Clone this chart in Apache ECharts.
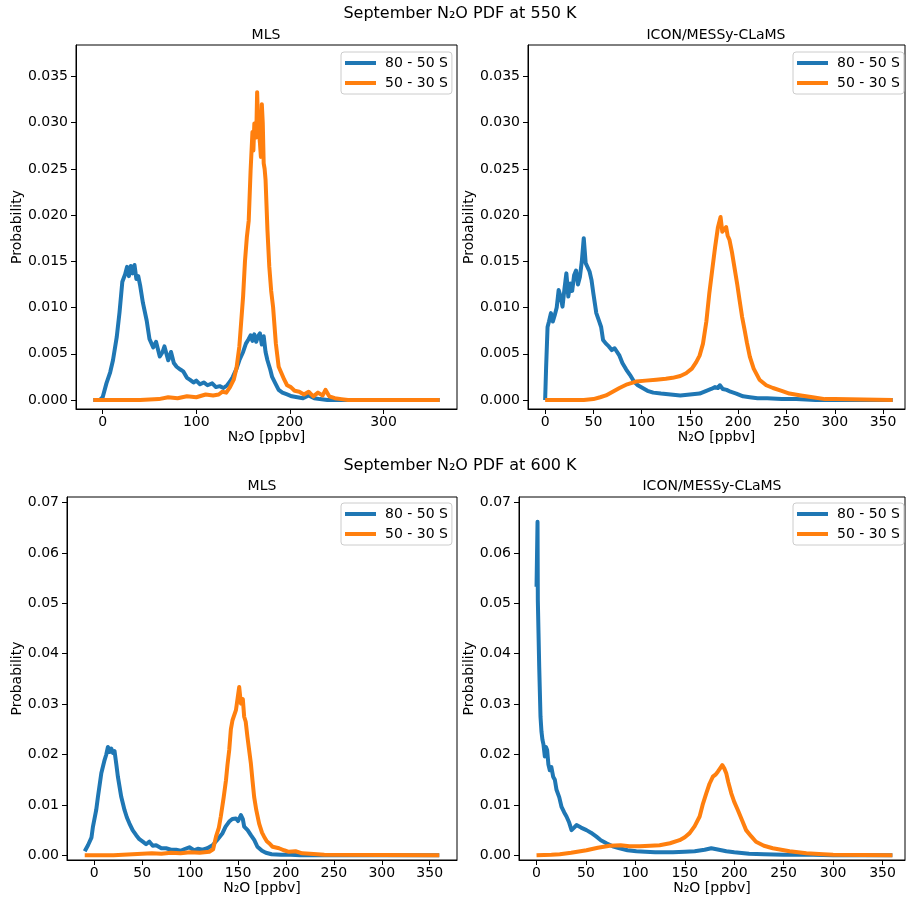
<!DOCTYPE html>
<html>
<head>
<meta charset="utf-8">
<script src="https://cdn.jsdelivr.net/npm/echarts@6/dist/echarts.min.js"></script>
<style>
  html, body { margin: 0; padding: 0; background: #fff; }
  #chart { width: 906px; height: 900px; }
</style>
</head>
<body>
<div id="chart"></div>
<script>
// series names
var names = ['80 - 50 S', '50 - 30 S'];

// 550 K, MLS
var mls550PolarX = [-10, -3, 0, 4, 8, 11, 15, 18, 21, 24, 26, 28, 30, 32, 34, 36, 38, 40, 43, 47, 50, 54, 57, 61, 64, 66, 70, 73, 76, 79, 83, 86, 90, 93, 97, 100, 104, 108, 112, 117, 121, 125, 129, 133, 136, 139, 143, 146, 150, 153, 156, 158, 160, 162, 164, 166, 168, 170, 172, 174, 176, 179, 181, 185, 188, 192, 197, 202, 208, 214, 220, 226, 232, 240, 260, 300, 360];
var mls550PolarY = [0, 0, 0.0003, 0.0018, 0.0030, 0.0043, 0.0068, 0.0095, 0.0128, 0.0136, 0.0144, 0.0134, 0.0145, 0.0137, 0.0146, 0.0131, 0.0134, 0.0124, 0.0105, 0.0086, 0.0066, 0.0057, 0.0063, 0.0047, 0.0052, 0.0058, 0.0043, 0.0052, 0.0040, 0.0036, 0.0033, 0.0031, 0.0024, 0.0022, 0.0019, 0.0021, 0.0017, 0.0019, 0.0016, 0.0018, 0.0014, 0.0015, 0.0013, 0.0016, 0.0020, 0.0025, 0.0034, 0.0043, 0.0052, 0.0061, 0.0066, 0.0070, 0.0064, 0.0071, 0.0063, 0.0069, 0.0072, 0.0060, 0.0069, 0.0052, 0.0043, 0.0033, 0.0025, 0.0017, 0.0011, 0.0008, 0.0006, 0.0004, 0.0003, 0.0002, 0.0005, 0.0002, 0.0001, 0, 0, 0, 0];
var mls550MidX = [-10, 40, 60, 70, 80, 90, 100, 110, 118, 124, 128, 132, 136, 140, 143, 146, 148, 150, 152, 154, 156, 158, 160, 161, 162, 164, 165, 166, 167, 168, 169, 170, 171, 172, 173, 174, 176, 178, 180, 182, 185, 188, 191, 194, 197, 201, 205, 210, 215, 220, 225, 230, 235, 238, 242, 248, 255, 262, 300, 360];
var mls550MidY = [0, 0, 0.0001, 0.0003, 0.0002, 0.0004, 0.0003, 0.0006, 0.0005, 0.0006, 0.0009, 0.0008, 0.0014, 0.0022, 0.0035, 0.0058, 0.0085, 0.0112, 0.0150, 0.0176, 0.0194, 0.0248, 0.0290, 0.0270, 0.0299, 0.0284, 0.0333, 0.0300, 0.0302, 0.0278, 0.0263, 0.0320, 0.0300, 0.0256, 0.0250, 0.0238, 0.0184, 0.0144, 0.0118, 0.0101, 0.0061, 0.0036, 0.0029, 0.0022, 0.0016, 0.0014, 0.0010, 0.0009, 0.0006, 0.0009, 0.0004, 0.0008, 0.0005, 0.0011, 0.0004, 0.0002, 0.0001, 0, 0, 0];

// 550 K, ICON/MESSy-CLaMS
var icon550PolarX = [0, 1, 2.5, 4, 6, 8, 10, 12, 14, 16, 18, 20, 22, 24, 26, 28, 30, 32, 34, 36, 38, 40, 42, 44, 46, 48, 50, 53, 56, 58, 60, 63, 66, 69, 72, 74, 77, 80, 84, 88, 92, 96, 101, 106, 112, 120, 130, 140, 150, 160, 167, 172, 176, 179, 181, 184, 188, 192, 198, 205, 212, 220, 230, 245, 260, 280, 300, 360];
var icon550PolarY = [0, 0.0035, 0.0079, 0.0085, 0.0094, 0.0085, 0.0092, 0.0100, 0.0119, 0.0112, 0.0101, 0.0120, 0.0137, 0.0112, 0.0126, 0.0118, 0.0135, 0.0140, 0.0125, 0.0133, 0.0150, 0.0175, 0.0148, 0.0150, 0.0139, 0.0130, 0.0115, 0.0094, 0.0085, 0.0079, 0.0065, 0.0061, 0.0058, 0.0054, 0.0056, 0.0058, 0.0048, 0.0040, 0.0033, 0.0027, 0.0020, 0.0016, 0.0013, 0.0010, 0.0008, 0.0007, 0.0006, 0.0005, 0.0006, 0.0007, 0.0010, 0.0012, 0.0014, 0.0013, 0.0016, 0.0012, 0.0011, 0.0009, 0.0007, 0.0004, 0.0003, 0.0002, 0.0002, 0.0001, 0.0001, 0, 0, 0];
var icon550MidX = [0, 20, 40, 50, 57, 63, 70, 77, 85, 94, 104, 115, 125, 132, 140, 146, 152, 156.5, 160, 163.5, 167, 170, 173, 176, 179, 181.7, 183.5, 185, 187.5, 189, 191, 193.5, 196, 199, 201.4, 204, 206.6, 209, 212, 216, 222, 229, 236, 245, 253, 265, 277, 290, 300, 360];
var icon550MidY = [0, 0, 0, 0.0001, 0.0003, 0.0005, 0.0009, 0.0013, 0.0017, 0.0020, 0.0021, 0.0022, 0.0023, 0.0024, 0.0026, 0.0029, 0.0034, 0.0041, 0.0048, 0.0061, 0.0085, 0.0115, 0.0140, 0.0165, 0.0187, 0.0198, 0.0182, 0.0180, 0.0187, 0.0178, 0.0173, 0.0160, 0.0144, 0.0125, 0.0108, 0.0090, 0.0076, 0.0062, 0.0047, 0.0034, 0.0022, 0.0016, 0.0013, 0.0010, 0.0007, 0.0005, 0.0003, 0.0001, 0.0001, 0];

// 600 K, MLS
var mls600PolarX = [-10, -6.6, -3, -1.4, 2, 3.8, 7.3, 10.7, 12.5, 14.2, 16, 17.7, 19.5, 21.1, 23, 24.6, 28.1, 31.5, 34, 36.7, 40, 43.7, 47, 50.6, 54, 57.5, 61, 64.5, 70, 74.9, 80, 85.3, 90, 95, 99.2, 104, 108, 113, 118, 123.4, 128, 133.8, 137, 140.8, 144, 147.8, 150, 153, 155, 156.4, 160, 163.4, 167, 170.2, 175, 179, 185, 195, 205, 215, 360];
var mls600PolarY = [0.0008, 0.0020, 0.0035, 0.0057, 0.0090, 0.0116, 0.0163, 0.0189, 0.0200, 0.0215, 0.0205, 0.0212, 0.0203, 0.0207, 0.0180, 0.0156, 0.0116, 0.0090, 0.0075, 0.0063, 0.0050, 0.0040, 0.0032, 0.0027, 0.0022, 0.0027, 0.0019, 0.0020, 0.0014, 0.0014, 0.0011, 0.0011, 0.0009, 0.0013, 0.0016, 0.0010, 0.0013, 0.0011, 0.0014, 0.0020, 0.0030, 0.0044, 0.0057, 0.0067, 0.0072, 0.0073, 0.0068, 0.0080, 0.0072, 0.0057, 0.0050, 0.0040, 0.0030, 0.0017, 0.0009, 0.0005, 0.0002, 0.0001, 0.0001, 0, 0];
var mls600MidX = [-10, 20, 40, 50, 60, 70, 80, 90, 100, 110, 120, 124, 127, 130, 132, 135, 137.4, 139, 140.8, 142.5, 144.2, 146, 147.8, 149.5, 151.2, 153, 155, 156.4, 158, 159.8, 161.5, 163.4, 165, 166.8, 169, 172, 175, 177.2, 180, 182.4, 186, 192.8, 198, 203, 210, 217, 225, 240, 360];
var mls600MidY = [0, 0, 0.0002, 0.0003, 0.0004, 0.0003, 0.0005, 0.0004, 0.0006, 0.0005, 0.0007, 0.0012, 0.0037, 0.0055, 0.0077, 0.0115, 0.0149, 0.0180, 0.0209, 0.0250, 0.0268, 0.0265, 0.0288, 0.0290, 0.0334, 0.0301, 0.0310, 0.0275, 0.0265, 0.0235, 0.0210, 0.0182, 0.0150, 0.0116, 0.0090, 0.0063, 0.0045, 0.0037, 0.0028, 0.0024, 0.0017, 0.0014, 0.0010, 0.0007, 0.0008, 0.0004, 0.0003, 0.0001, 0];

// 600 K, ICON/MESSy-CLaMS
var icon600PolarX = [0, 1, 1.3, 2, 2.7, 4, 5, 6, 7, 8.4, 9.5, 10.7, 12, 13.4, 15, 16.8, 18.5, 20.2, 23, 25.3, 28, 30.3, 33, 35.4, 38, 40.4, 45, 50.5, 55, 60.6, 65, 70.7, 77, 84, 92, 101, 110, 120, 130, 138, 150, 160, 170, 176.8, 182, 192, 200, 215, 230, 250, 280, 300, 360];
var icon600PolarY = [0.0533, 0.0662, 0.0506, 0.0440, 0.0374, 0.0275, 0.0245, 0.0229, 0.0220, 0.0196, 0.0215, 0.0209, 0.0180, 0.0169, 0.0175, 0.0156, 0.0150, 0.0130, 0.0115, 0.0096, 0.0085, 0.0077, 0.0065, 0.0050, 0.0055, 0.0060, 0.0055, 0.0050, 0.0045, 0.0037, 0.0030, 0.0024, 0.0018, 0.0014, 0.0010, 0.0008, 0.0007, 0.0006, 0.0006, 0.0006, 0.0007, 0.0008, 0.0011, 0.0014, 0.0012, 0.0008, 0.0006, 0.0003, 0.0002, 0.0001, 0.0001, 0, 0];
var icon600MidX = [0, 15, 23.5, 35, 50.5, 62, 74, 85, 94, 104.3, 115, 124.5, 135, 144.7, 150, 154.9, 160, 165, 168, 171.7, 175, 178.4, 181, 183.4, 185.5, 187.9, 190, 191.9, 194, 197, 200, 203.6, 208, 212, 217, 222, 230, 239, 256, 273, 290, 300, 360];
var icon600MidY = [0, 0.0001, 0.0002, 0.0005, 0.0010, 0.0015, 0.0019, 0.0020, 0.0018, 0.0018, 0.0019, 0.0020, 0.0024, 0.0030, 0.0036, 0.0044, 0.0058, 0.0077, 0.0100, 0.0123, 0.0142, 0.0156, 0.0160, 0.0166, 0.0172, 0.0179, 0.0172, 0.0163, 0.0145, 0.0123, 0.0106, 0.0090, 0.0069, 0.0050, 0.0038, 0.0027, 0.0019, 0.0014, 0.0008, 0.0004, 0.0002, 0.0001, 0];

// tick labels
var xTicksMls550 = [0, 100, 200, 300];
var xTicks = [0, 50, 100, 150, 200, 250, 300, 350];
var yTicks550 = [0, 0.005, 0.010, 0.015, 0.020, 0.025, 0.030, 0.035];
var yTicks600 = [0, 0.01, 0.02, 0.03, 0.04, 0.05, 0.06, 0.07];

var colors = ['#1f77b4', '#ff7f0e'];
var font = 'DejaVu Sans';

function zip(xs, ys) {
  var out = [];
  for (var i = 0; i < xs.length; i++) {
    out.push([xs[i], ys[i]]);
  }
  return out;
}

function xAxisOf(idx, min, max, ticks) {
  return {
    type: 'value',
    gridIndex: idx,
    min: min,
    max: max,
    name: 'N\u2082O [ppbv]',
    nameLocation: 'middle',
    nameGap: 21,
    nameTextStyle: { color: '#000', fontSize: 14, fontFamily: font },
    axisLine: { show: true, onZero: false, lineStyle: { color: '#000', width: 1 } },
    axisTick: { show: true, length: 5, lineStyle: { color: '#000' }, customValues: ticks },
    axisLabel: { color: '#000', fontSize: 14, fontFamily: font, margin: 6, customValues: ticks },
    splitLine: { show: false }
  };
}

function yAxisOf(idx, min, max, ticks, digits, gap) {
  return {
    type: 'value',
    gridIndex: idx,
    min: min,
    max: max,
    name: 'Probability',
    nameLocation: 'middle',
    nameGap: gap,
    nameTextStyle: { color: '#000', fontSize: 14, fontFamily: font },
    axisLine: { show: true, onZero: false, lineStyle: { color: '#000', width: 1 } },
    axisTick: { show: true, length: 5, lineStyle: { color: '#000' }, customValues: ticks },
    axisLabel: {
      color: '#000', fontSize: 14, fontFamily: font, margin: 8, customValues: ticks,
      formatter: function (v) { return v.toFixed(digits); }
    },
    splitLine: { show: false }
  };
}

function legendAt(left, top) {
  return {
    orient: 'vertical',
    left: left,
    top: top,
    data: names,
    icon: 'rect',
    itemWidth: 31,
    itemHeight: 4,
    itemGap: 6,
    padding: [4, 4, 4, 4],
    borderColor: '#cccccc',
    borderWidth: 1,
    borderRadius: 3,
    backgroundColor: 'rgba(255,255,255,0.8)',
    textStyle: { color: '#000', fontSize: 14, fontFamily: font, padding: [0, 0, 0, 4] }
  };
}

function line(name, idx, xs, ys, color) {
  return {
    name: name,
    type: 'line',
    xAxisIndex: idx,
    yAxisIndex: idx,
    data: zip(xs, ys),
    showSymbol: false,
    symbol: 'none',
    color: color,
    lineStyle: { color: color, width: 4, join: 'round' },
    z: name == names[1] ? 3 : 2
  };
}

function titleAt(text, x, y, size) {
  return {
    text: text,
    left: x,
    top: y,
    textAlign: 'center',
    padding: 0,
    textStyle: { color: '#000', fontSize: size, fontWeight: 'normal', fontFamily: font }
  };
}

var myChart = echarts.init(document.getElementById('chart'), null, { renderer: 'canvas' });

var option = {
  animation: false,
  backgroundColor: '#fff',
  title: [
    titleAt('September N\u2082O PDF at 550 K', 460, 6, 16),
    titleAt('MLS', 266, 28, 14),
    titleAt('ICON/MESSy-CLaMS', 716, 28, 14),
    titleAt('September N\u2082O PDF at 600 K', 460, 458, 16),
    titleAt('MLS', 262, 479, 14),
    titleAt('ICON/MESSy-CLaMS', 712, 479, 14)
  ],
  legend: [
    legendAt(341, 52),
    legendAt(793, 52),
    legendAt(341, 503),
    legendAt(793, 503)
  ],
  grid: [
    { left: 76, top: 45, width: 381, height: 364, show: true, borderColor: '#000', borderWidth: 1, backgroundColor: 'transparent' },
    { left: 528, top: 45, width: 377, height: 364, show: true, borderColor: '#000', borderWidth: 1, backgroundColor: 'transparent' },
    { left: 67, top: 497, width: 390, height: 363, show: true, borderColor: '#000', borderWidth: 1, backgroundColor: 'transparent' },
    { left: 519, top: 497, width: 386, height: 363, show: true, borderColor: '#000', borderWidth: 1, backgroundColor: 'transparent' }
  ],
  xAxis: [
    xAxisOf(0, -28.5, 378.5, xTicksMls550),
    xAxisOf(1, -17.75, 372.75, xTicks),
    xAxisOf(2, -28.5, 378.5, xTicks),
    xAxisOf(3, -17.75, 372.75, xTicks)
  ],
  yAxis: [
    yAxisOf(0, -0.00097, 0.0384, yTicks550, 3, 50),
    yAxisOf(1, -0.00097, 0.0384, yTicks550, 3, 50),
    yAxisOf(2, -0.00093, 0.0711, yTicks600, 2, 42),
    yAxisOf(3, -0.00093, 0.0711, yTicks600, 2, 42)
  ],
  series: [
    line(names[0], 0, mls550PolarX, mls550PolarY, colors[0]),
    line(names[1], 0, mls550MidX, mls550MidY, colors[1]),
    line(names[0], 1, icon550PolarX, icon550PolarY, colors[0]),
    line(names[1], 1, icon550MidX, icon550MidY, colors[1]),
    line(names[0], 2, mls600PolarX, mls600PolarY, colors[0]),
    line(names[1], 2, mls600MidX, mls600MidY, colors[1]),
    line(names[0], 3, icon600PolarX, icon600PolarY, colors[0]),
    line(names[1], 3, icon600MidX, icon600MidY, colors[1])
  ]
};

myChart.setOption(option);
window.addEventListener('resize', () => {
  myChart.resize();
});
</script>
</body>
</html>
